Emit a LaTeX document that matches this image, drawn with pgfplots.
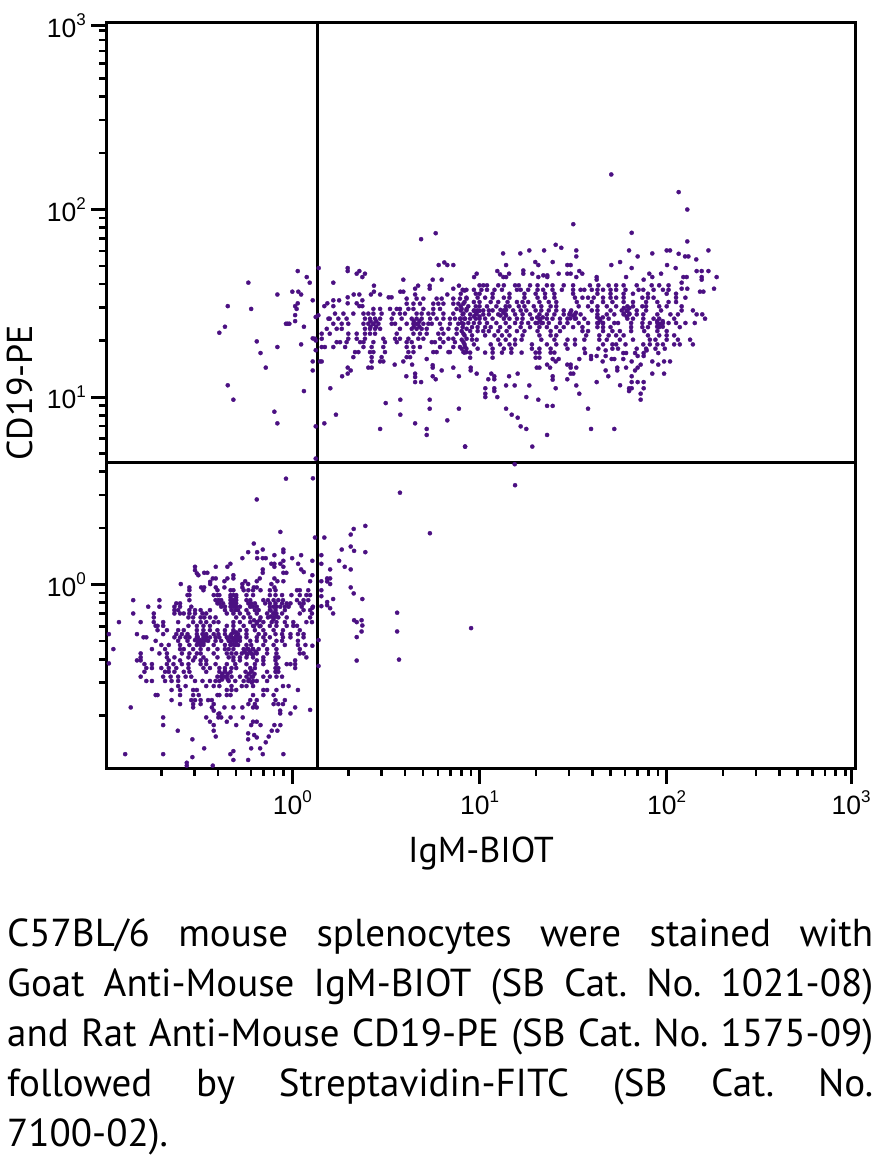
\documentclass[border=0pt]{standalone}
\usepackage{pgfplots}
\usepackage{fontspec}
\pgfplotsset{compat=1.18}
\setmainfont{PT Sans}
\newfontfamily\tickfont{Liberation Sans}
\definecolor{dotpurple}{RGB}{75,16,130}
\newcommand{\decade}[1]{{\tickfont\fontsize{26.5}{27}\selectfont 10\raisebox{11.5pt}{\fontsize{17}{17}\selectfont #1}}}
% events, log10(IgM-BIOT) log10(CD19-PE)
\begin{document}
\begin{tikzpicture}[x=1pt,y=1pt]
\useasboundingbox (0,0) rectangle (884,-1157);
\begin{axis}[
    at={(107pt,-768pt)},
    anchor=south west,
    scale only axis,
    width=748pt,
    height=746pt,
    xmode=log,
    ymode=log,
    xmin=0.1023, xmax=1014,
    ymin=0.1052, ymax=1000,
    xtick={1,10,100,966},
    ytick={1,10,100,958},
    xticklabels={\decade{0},\decade{1},\decade{2},\decade{3}},
    yticklabels={\decade{0},\decade{1},\decade{2},\decade{3}},
    minor xtick={0.2,0.3,0.4,0.5,0.6,0.7,0.8,0.9,2,3,4,5,6,7,8,9,20,30,40,50,60,70,80,90,200,300,400,500,600,700,800,900},
    minor ytick={0.2,0.3,0.4,0.5,0.6,0.7,0.8,0.9,2,3,4,5,6,7,8,9,20,30,40,50,60,70,80,90,200,300,400,500,600,700,800,900},
    tick align=outside,
    tick pos=left,
    major tick length=16pt,
    minor tick length=8pt,
    axis line style={line width=3pt},
    major tick style={black,line width=3pt},
    minor tick style={black,line width=2.6pt},
    xticklabel style={inner sep=0pt,yshift=-7pt},
    yticklabel style={inner sep=0pt,xshift=-5pt},
    xlabel={IgM-BIOT},
    ylabel={CD19-PE},
    xlabel style={at={(axis description cs:0.5,-0.126)},anchor=base,inner sep=0pt,font=\fontsize{36}{40}\selectfont},
    ylabel style={at={(axis description cs:-0.099,0.503)},anchor=base,inner sep=0pt,font=\fontsize{36}{40}\selectfont},
    clip=true,
]
\addplot[only marks,mark=*,mark size=2.1pt,mark options={draw=dotpurple,fill=dotpurple,line width=0.3pt}]
  table[x expr={pow(10,\thisrowno{0})},y expr={pow(10,\thisrowno{1})}] {
-0.19 .454
-.064 .281
-.206 .219
.121 .251
.171 .251
.39 .313
.328 .297
.312 .267
.312 .203
.264 .187
.39 .173
.25 .127
.28 .095
.312 .081
.202 .081
.155 .157
.155 .111
.107 .127
.047 .157
-.001 .141
.031 .111
.047 .081
.061 .067
-.048 .187
-.048 .173
-.096 .157
-.158 .187
-.188 .173
-.236 .173
-.267 .141
-.188 .141
-.158 .141
-.142 .141
-.048 .127
-.064 .111
-.096 .111
-.112 .111
-.096 .095
-.048 .095
-.158 .081
-.158 .063
-.331 .111
-.347 .095
-.409 .095
-.52 .095
-.52 .077
-.51 .06
-.502 .05
-.471 .063
-.454 .063
-.315 .05
-.315 .033
-.347 .033
-.363 .018
-.409 .033
-.425 .033
-.439 .015
-.439 .003
-.596 .003
-.55 -.015
-.487 -.015
-.471 -.015
-.409 -.015
-.363 -.015
-.252 .018
-.267 .003
-.267 -.015
-.236 .003
-.206 -.015
-.19 -.015
-.19 .018
-.174 .033
-.048 .018
-.096 .033
-.08 .018
-.112 .003
-.096 -.015
-.048 .063
-.032 .063
.095 .018
.107 .05
.155 .018
.202 .033
.186 .033
.186 .017
.202 .003
.155 -.03
.155 -.062
.155 -.115
.107 -.124
.312 -.015
.328 -.047
.374 -.077
.218 -.077
.186 -.093
.186 -.11
.202 -.126
.218 -.154
.344 -.2
.374 -.218
.344 -.28
.344 -.405
.14 -.296
.14 -.434
.107 -.326
.955 -.232
.56 -.15
.56 -.25
.57 -.4
.33 -.19
.37 -.19
.37 -.25
.575 .49
.735 .274
.11 .567
1.19 .53
.33 .18
-.98 -.264
-.98 -.42
-.55 -.03
-.475 -.03
-.40 -.03
-.33 -.03
-.315 -.03
-.26 -.03
-.235 -.03
-.21 -.03
-.17 -.03
-.12 -.03
-.09 -.03
.025 -.03
.04 -.03
.085 -.03
-.56 -.056
-.55 -.056
-.42 -.056
-.40 -.056
-.39 -.056
-.33 -.056
-.315 -.056
-.30 -.056
-.245 -.056
-.21 -.056
-.12 -.056
-.09 -.056
-.055 -.056
-.005 -.056
.04 -.056
.075 -.056
.095 -.056
-.85 -.083
-.71 -.083
-.55 -.083
-.41 -.083
-.395 -.083
-.38 -.083
-.33 -.083
-.315 -.083
-.30 -.083
-.245 -.083
-.225 -.083
-.155 -.083
-.13 -.083
-.10 -.083
-.075 -.083
-.05 -.083
.025 -.083
.06 -.083
.085 -.083
-.62 -.1
-.60 -.1
-.40 -.1
-.39 -.1
-.37 -.1
-.325 -.1
-.30 -.1
-.235 -.1
-.22 -.1
-.20 -.1
-.145 -.1
-.12 -.1
-.09 -.1
-.055 -.1
-.03 -.1
-.01 -.1
.04 -.1
.06 -.1
-.77 -.118
-.71 -.118
-.63 -.118
-.60 -.118
-.54 -.118
-.38 -.118
-.36 -.118
-.33 -.118
-.315 -.118
-.30 -.118
-.28 -.118
-.225 -.118
-.21 -.118
-.19 -.118
-.12 -.118
-.10 -.118
-.085 -.118
-.065 -.118
-.04 -.118
-.02 -.118
.05 -.118
.11 -.118
-.63 -.136
-.61 -.136
-.55 -.136
-.52 -.136
-.49 -.136
-.44 -.136
-.36 -.136
-.325 -.136
-.305 -.136
-.29 -.136
-.245 -.136
-.20 -.136
-.18 -.136
-.12 -.136
-.09 -.136
-.04 -.136
.06 -.136
.095 -.136
-.85 -.154
-.74 -.154
-.63 -.154
-.60 -.154
-.58 -.154
-.55 -.154
-.52 -.154
-.48 -.154
-.46 -.154
-.35 -.154
-.315 -.154
-.28 -.154
-.235 -.154
-.19 -.154
-.135 -.154
-.10 -.154
-.085 -.154
-.055 -.154
.04 -.154
.105 -.154
-.74 -.175
-.555 -.175
-.53 -.175
-.49 -.175
-.47 -.175
-.44 -.175
-.41 -.175
-.30 -.175
-.26 -.175
-.225 -.175
-.17 -.175
-.13 -.175
-.10 -.175
-.075 -.175
-.03 -.175
.095 -.175
-.926 -.2
-.81 -.2
-.74 -.2
-.69 -.2
-.61 -.2
-.53 -.2
-.49 -.2
-.46 -.2
-.42 -.2
-.395 -.2
-.315 -.2
-.28 -.2
-.225 -.2
-.19 -.2
-.155 -.2
-.11 -.2
-.085 -.2
-.04 -.2
.005 -.2
.075 -.2
.105 -.2
-.73 -.22
-.72 -.22
-.69 -.22
-.555 -.22
-.51 -.22
-.475 -.22
-.44 -.22
-.35 -.22
-.315 -.22
-.26 -.22
-.21 -.22
-.17 -.22
-.12 -.22
-.085 -.22
-.03 -.22
.005 -.22
.025 -.22
-.72 -.243
-.67 -.243
-.61 -.243
-.58 -.243
-.51 -.243
-.475 -.243
-.44 -.243
-.40 -.243
-.36 -.243
-.315 -.243
-.28 -.243
-.245 -.243
-.20 -.243
-.155 -.243
-.10 -.243
-.05 -.243
.04 -.243
-.83 -.264
-.69 -.264
-.62 -.264
-.59 -.264
-.56 -.264
-.51 -.264
-.48 -.264
-.46 -.264
-.42 -.264
-.395 -.264
-.36 -.264
-.325 -.264
-.29 -.264
-.245 -.264
-.18 -.264
-.145 -.264
-.09 -.264
-.055 -.264
-.01 -.264
.03 -.264
.06 -.264
-.795 -.281
-.78 -.281
-.63 -.281
-.60 -.281
-.57 -.281
-.55 -.281
-.51 -.281
-.475 -.281
-.44 -.281
-.41 -.281
-.39 -.281
-.35 -.281
-.325 -.281
-.30 -.281
-.28 -.281
-.245 -.281
-.19 -.281
-.155 -.281
-.12 -.281
-.05 -.281
-.01 -.281
.06 -.281
-.73 -.3
-.61 -.3
-.56 -.3
-.50 -.3
-.475 -.3
-.45 -.3
-.41 -.3
-.38 -.3
-.34 -.3
-.315 -.3
-.30 -.3
-.28 -.3
-.225 -.3
-.19 -.3
-.145 -.3
-.085 -.3
-.055 -.3
.03 -.3
-.70 -.322
-.66 -.322
-.60 -.322
-.55 -.322
-.51 -.322
-.49 -.322
-.475 -.322
-.42 -.322
-.36 -.322
-.33 -.322
-.305 -.322
-.29 -.322
-.245 -.322
-.22 -.322
-.155 -.322
-.10 -.322
-.04 -.322
.03 -.322
.07 -.322
-.956 -.344
-.75 -.344
-.68 -.344
-.60 -.344
-.58 -.344
-.53 -.344
-.49 -.344
-.45 -.344
-.40 -.344
-.36 -.344
-.34 -.344
-.315 -.344
-.26 -.344
-.235 -.344
-.21 -.344
-.18 -.344
-.135 -.344
-.085 -.344
.04 -.344
-.81 -.367
-.71 -.367
-.67 -.367
-.59 -.367
-.55 -.367
-.51 -.367
-.49 -.367
-.42 -.367
-.35 -.367
-.325 -.367
-.30 -.367
-.27 -.367
-.245 -.367
-.22 -.367
-.19 -.367
-.135 -.367
-.085 -.367
.04 -.367
.06 -.367
-.81 -.388
-.67 -.388
-.63 -.388
-.555 -.388
-.52 -.388
-.475 -.388
-.40 -.388
-.34 -.388
-.315 -.388
-.28 -.388
-.245 -.388
-.21 -.388
-.155 -.388
-.09 -.388
-.075 -.388
.075 -.388
-.83 -.404
-.81 -.404
-.66 -.404
-.60 -.404
-.53 -.404
-.49 -.404
-.46 -.404
-.315 -.404
-.28 -.404
-.19 -.404
-.155 -.404
-.09 -.404
.015 -.404
-.75 -.424
-.79 -.424
-.67 -.424
-.635 -.424
-.59 -.424
-.555 -.424
-.49 -.424
-.46 -.424
-.41 -.424
-.35 -.424
-.305 -.424
-.245 -.424
-.20 -.424
-.155 -.424
-.085 -.424
-.03 -.424
-.01 -.424
.015 -.424
-.78 -.445
-.75 -.445
-.70 -.445
-.66 -.445
-.62 -.445
-.555 -.445
-.475 -.445
-.44 -.445
-.39 -.445
-.36 -.445
-.325 -.445
-.30 -.445
-.225 -.445
-.20 -.445
-.09 -.445
-.075 -.445
.015 -.445
-.79 -.465
-.68 -.465
-.66 -.465
-.63 -.465
-.58 -.465
-.55 -.465
-.46 -.465
-.39 -.465
-.36 -.465
-.33 -.465
-.25 -.465
-.22 -.465
-.135 -.465
-.09 -.465
-.075 -.465
-.81 -.491
-.69 -.491
-.65 -.491
-.61 -.491
-.57 -.491
-.54 -.491
-.40 -.491
-.38 -.491
-.35 -.491
-.325 -.491
-.28 -.491
-.245 -.491
-.21 -.491
-.155 -.491
-.12 -.491
-.085 -.491
-.055 -.491
-.78 -.514
-.75 -.514
-.68 -.514
-.645 -.514
-.61 -.514
-.52 -.514
-.48 -.514
-.44 -.514
-.41 -.514
-.39 -.514
-.34 -.514
-.305 -.514
-.26 -.514
-.235 -.514
-.21 -.514
-.19 -.514
-.135 -.514
-.61 -.541
-.57 -.541
-.46 -.541
-.42 -.541
-.39 -.541
-.325 -.541
-.27 -.541
-.245 -.541
-.21 -.541
-.05 -.541
-.02 -.541
-.645 -.562
-.60 -.562
-.53 -.562
-.51 -.562
-.35 -.562
-.325 -.562
-.30 -.562
-.155 -.562
-.135 -.562
-.085 -.562
.03 -.562
-.73 -.589
-.72 -.589
-.60 -.589
-.53 -.589
-.50 -.589
-.40 -.589
-.39 -.589
-.35 -.589
-.33 -.589
-.21 -.589
-.155 -.589
-.10 -.589
-.645 -.616
-.54 -.616
-.52 -.616
-.49 -.616
-.45 -.616
-.43 -.616
-.225 -.616
-.19 -.616
-.09 -.616
-.04 -.616
-.60 -.637
-.53 -.637
-.49 -.637
-.42 -.637
-.235 -.637
-.20 -.637
-.10 -.637
-.075 -.637
-.05 -.637
-.863 -.655
-.53 -.655
-.43 -.655
-.363 -.655
-.315 -.655
-.267 -.655
-.21 -.655
-.19 -.655
.015 -.655
-.42 -.672
-.065 -.672
.095 -.668
-.39 -.687
-.395 -.69
-.065 -.687
-.01 -.687
-.69 -.708
-.46 -.708
-.395 -.708
-.38 -.708
-.33 -.708
-.265 -.708
-.44 -.731
-.35 -.731
-.21 -.731
-.19 -.731
-.69 -.749
-.42 -.749
-.30 -.749
-.22 -.749
-.17 -.749
-.096 -.749
-.064 -.749
-.612 -.779
-.42 -.779
-.11 -.779
-.08 -.779
-.534 -.825
-.409 -.81
-.236 -.793
-.204 -.802
-.19 -.815
-.126 -.81
-.236 -.825
-.142 -.841
-.22 -.873
-.172 -.873
-.471 -.873
-.893 -.904
-.69 -.904
-.534 -.92
-.315 -.888
-.331 -.904
-.158 -.904
-.048 -.904
-.315 -.935
-.236 -.935
-.564 -.95
-.564 -.965
-.425 -.965
-.49 -.296
-.505 -.28
-.475 -.265
-.49 -.31
-.505 -.311
-.475 -.311
-.46 -.296
-.52 -.296
-.46 -.28
-.315 -.287
-.33 -.272
-.30 -.272
-.33 -.303
-.30 -.303
-.345 -.287
-.285 -.287
-.315 -.255
-.315 -.32
-.33 -.32
-.30 -.255
-.226 -.358
-.241 -.343
-.211 -.343
-.241 -.373
-.211 -.373
-.256 -.358
-.196 -.358
-.36 -.491
-.375 -.476
-.345 -.476
-.375 -.506
-.345 -.506
-.36 -.46
-.217 -.491
-.232 -.476
-.202 -.476
-.217 -.46
-.217 -.522
-.232 -.506
-.101 -.154
-.116 -.17
-.086 -.17
-.101 -.185
-.116 -.138
-.315 -.083
-.33 -.068
-.30 -.068
-.315 -.1
-.33 -.1
-.19 -.207
-.205 -.19
-.175 -.19
-.205 -.222
-.175 -.222
-.235 1.61
-.345 1.485
-.22 1.47
-.36 1.375
-.39 1.343
-.19 1.297
-.08 1.267
-.17 1.235
-.142 1.157
-.345 1.063
-.315 .986
-.096 .922
-.08 .86
.062 1.032
.109 1.142
.109 1.19
.125 1.25
.109 1.313
.125 1.302
.047 1.281
.062 1.375
.015 1.405
.015 1.437
.023 1.47
.015 1.485
.029 1.5
-.025 1.391
-.034 1.391
-.016 1.391
0 1.562
.032 1.562
.047 1.547
-.08 1.547
.029 1.672
.077 1.64
.093 1.61
.109 1.516
.141 1.688
.125 1.427
.139 1.436
.125 .844
.171 .86
.233 .906
.125 .672
-.034 .565
.203 1.047
.266 1.111
.296 1.125
.312 1.142
.296 1.157
.219 1.61
.296 1.688
.296 1.672
.344 1.658
.358 1.672
.374 1.64
.388 1.658
.436 1.594
.42 1.547
.436 1.562
.469 1.547
.328 1.547
.358 1.547
.296 1.532
.296 1.5
.25 1.516
.219 1.516
.219 1.485
.187 1.5
.171 1.485
.344 1.5
.358 1.485
.374 1.516
.374 1.485
.515 1.532
.53 1.532
.577 1.562
.593 1.562
.593 1.626
.688 1.842
.766 1.874
.782 1.704
.812 1.718
.828 1.704
.86 1.704
.75 1.626
.798 1.626
.672 1.594
.656 1.578
.656 1.547
.734 1.594
.734 1.578
.86 1.578
.89 1.594
.828 1.547
.92 1.568
.499 .968
.577 .986
.577 .906
.734 .986
.734 .938
.89 .938
.656 .86
.469 .83
.718 .83
.718 .798
.828 .876
.923 .736
.609 1.111
.656 1.125
.656 1.107
.656 1.08
.688 1.08
.75 1.17
.75 1.157
.75 1.111
.766 1.095
.798 1.142
.86 1.157
.89 1.111
.718 1.203
.64 1.173
.547 1.173
.593 1.19
.433 1.47
.469 1.47
.522 1.47
.558 1.47
.575 1.47
.62 1.47
.647 1.47
.7 1.47
.753 1.47
.789 1.47
.878 1.47
.905 1.47
.931 1.47
.611 1.498
.647 1.498
.682 1.498
.753 1.498
.78 1.498
.807 1.498
.86 1.498
.887 1.498
.914 1.498
.611 1.525
.664 1.525
.7 1.525
.771 1.525
.798 1.525
.86 1.525
.896 1.525
.931 1.525
.228 1.445
.273 1.445
.326 1.445
.38 1.445
.406 1.445
.433 1.445
.477 1.445
.54 1.445
.575 1.445
.602 1.445
.664 1.445
.691 1.445
.727 1.445
.753 1.445
.807 1.445
.86 1.445
.914 1.445
.193 1.418
.2 1.418
.246 1.418
.29 1.418
.388 1.418
.415 1.418
.442 1.418
.469 1.418
.531 1.418
.584 1.418
.638 1.418
.664 1.418
.691 1.418
.736 1.418
.771 1.418
.807 1.418
.842 1.418
.869 1.418
.896 1.418
.923 1.418
.219 1.391
.264 1.391
.299 1.391
.38 1.391
.406 1.391
.433 1.391
.46 1.391
.531 1.391
.549 1.391
.611 1.391
.647 1.391
.673 1.391
.7 1.391
.727 1.391
.745 1.391
.789 1.391
.842 1.391
.887 1.391
.914 1.391
.184 1.364
.237 1.364
.264 1.364
.388 1.364
.415 1.364
.442 1.364
.469 1.364
.575 1.364
.638 1.364
.664 1.364
.691 1.364
.718 1.364
.798 1.364
.834 1.364
.878 1.364
.931 1.364
.157 1.338
.2 1.338
.299 1.338
.344 1.338
.388 1.338
.415 1.338
.442 1.338
.558 1.338
.647 1.338
.682 1.338
.718 1.338
.78 1.338
.807 1.338
.878 1.338
.914 1.338
.121 1.311
.157 1.311
.299 1.311
.344 1.311
.388 1.311
.486 1.311
.549 1.311
.575 1.311
.62 1.311
.673 1.311
.7 1.311
.789 1.311
.834 1.311
.86 1.311
.931 1.311
.237 1.293
.255 1.293
.29 1.293
.362 1.293
.38 1.293
.433 1.293
.495 1.293
.558 1.293
.611 1.293
.638 1.293
.745 1.293
.762 1.293
.807 1.293
.869 1.293
.914 1.293
.157 1.267
.174 1.267
.219 1.267
.282 1.267
.38 1.267
.424 1.267
.486 1.267
.611 1.267
.647 1.267
.682 1.267
.789 1.267
.86 1.267
.896 1.267
.923 1.267
.335 1.24
.353 1.24
.415 1.24
.433 1.24
.495 1.24
.62 1.24
.647 1.24
.753 1.24
.771 1.24
.834 1.24
.842 1.24
.914 1.24
.931 1.24
.326 1.213
.424 1.213
.477 1.213
.611 1.213
.629 1.213
.424 1.19
.469 1.19
.486 1.19
.148 1.19
.157 1.19
.406 1.157
.424 1.157
1.704 2.187
2.064 2.093
2.11 2.0
1.501 1.922
1.813 1.876
2.11 1.83
1.407 1.812
1.437 1.796
1.517 1.782
1.517 1.75
1.799 1.782
1.845 1.75
1.923 1.766
2.0 1.782
2.018 1.782
2.064 1.764
2.098 1.75
2.116 1.75
2.158 1.734
2.223 1.782
1.126 1.766
1.218 1.766
1.266 1.782
1.345 1.782
1.142 1.704
1.298 1.72
1.314 1.704
1.391 1.72
1.469 1.704
1.487 1.704
1.704 1.704
1.751 1.72
1.813 1.688
2.002 1.704
2.048 1.688
2.16 1.672
2.187 1.672
2.223 1.672
2.267 1.64
2.253 1.578
.971 1.64
.985 1.658
1.095 1.672
1.11 1.654
1.127 1.64
1.158 1.658
1.142 1.64
1.234 1.675
1.234 1.658
1.282 1.658
1.314 1.64
1.341 1.649
1.362 1.649
1.362 1.64
1.423 1.658
1.469 1.658
1.487 1.658
1.533 1.672
1.549 1.658
1.517 1.64
1.626 1.64
1.626 1.626
1.783 1.64
1.877 1.626
1.907 1.658
1.923 1.64
1.97 1.658
2.107 1.64
2.089 1.64
2.187 1.64
2.187 1.626
2.08 1.61
2.08 1.578
2.11 1.578
2.178 1.562
2.196 1.562
.985 1.125
.953 1.157
.953 1.142
1.047 1.095
1.063 1.125
1.079 1.111
1.079 1.095
1.158 1.111
1.204 1.125
1.031 1.047
1.031 1.018
1.031 1.0
1.079 1.047
1.079 1.032
1.095 1.0
1.142 1.062
1.188 1.062
1.266 1.062
1.25 1.0
1.314 .986
1.142 .938
1.172 .906
1.204 .89
1.22 .844
1.25 .83
1.361 .953
1.391 .953
1.361 .798
1.282 .736
.923 .736
1.188 .642
1.58 .938
1.596 .83
1.72 .83
1.407 1.047
1.391 1.111
1.391 1.093
1.469 1.095
1.517 1.062
1.533 1.018
1.626 1.08
1.688 1.111
1.751 1.063
1.813 1.111
1.813 1.08
1.799 1.047
1.799 1.032
1.813 1.047
1.845 1.08
1.877 1.08
1.877 1.047
1.861 1.018
1.861 .986
1.923 1.125
1.986 1.125
1.674 1.142
1.736 1.157
1.736 1.142
1.783 1.157
1.831 1.142
1.845 1.157
1.861 1.173
1.923 1.19
1.955 1.173
1.986 1.19
2.018 1.19
1.955 1.235
1.306 1.157
1.32 1.157
1.361 1.173
1.377 1.157
1.391 1.203
1.407 1.19
1.423 1.203
1.469 1.173
1.487 1.173
1.487 1.157
1.487 1.125
1.501 1.125
1.517 1.157
1.533 1.203
1.564 1.235
1.596 1.219
1.596 1.203
1.626 1.219
1.658 1.19
1.674 1.219
1.674 1.249
1.706 1.203
1.72 1.203
1.768 1.235
1.783 1.235
1.768 1.203
1.813 1.19
1.831 1.235
1.845 1.219
1.877 1.235
1.877 1.219
1.893 1.249
1.0 1.596
1.02 1.596
1.04 1.596
1.10 1.596
1.13 1.596
1.19 1.596
1.21 1.596
1.27 1.596
1.31 1.596
1.36 1.596
1.39 1.596
1.45 1.596
1.50 1.596
1.59 1.596
1.635 1.596
1.69 1.596
1.73 1.596
1.77 1.596
1.84 1.596
1.92 1.596
1.96 1.596
2.01 1.596
.91 1.572
.93 1.572
.97 1.572
1.01 1.572
1.04 1.572
1.08 1.572
1.12 1.572
1.2 1.572
1.22 1.572
1.26 1.572
1.31 1.572
1.34 1.572
1.39 1.572
1.44 1.572
1.5 1.572
1.54 1.572
1.56 1.572
1.6 1.572
1.63 1.572
1.66 1.572
1.7 1.572
1.73 1.572
1.78 1.572
1.85 1.572
1.875 1.572
1.93 1.572
1.98 1.572
2.01 1.572
.9 1.551
.98 1.551
1.0 1.551
1.07 1.551
1.16 1.551
1.24 1.551
1.3 1.551
1.35 1.551
1.4 1.551
1.5 1.551
1.63 1.551
1.7 1.551
1.77 1.551
1.82 1.551
1.9 1.551
2.0 1.551
2.05 1.551
.93 1.53
.99 1.53
1.03 1.53
1.07 1.53
1.13 1.53
1.16 1.53
1.24 1.53
1.31 1.53
1.35 1.53
1.4 1.53
1.51 1.53
1.55 1.53
1.58 1.53
1.61 1.53
1.66 1.53
1.7 1.53
1.73 1.53
1.77 1.53
1.87 1.53
1.9 1.53
1.93 1.53
2.05 1.53
2.1 1.53
.92 1.507
.97 1.507
1.0 1.507
1.06 1.507
1.1 1.507
1.15 1.507
1.2 1.507
1.23 1.507
1.26 1.507
1.32 1.507
1.37 1.507
1.41 1.507
1.52 1.507
1.6 1.507
1.66 1.507
1.71 1.507
1.77 1.507
1.82 1.507
1.89 1.507
1.95 1.507
2.01 1.507
2.05 1.507
.9 1.484
.94 1.484
.98 1.484
1.0 1.484
1.04 1.484
1.09 1.484
1.14 1.484
1.16 1.484
1.21 1.484
1.24 1.484
1.29 1.484
1.33 1.484
1.38 1.484
1.41 1.484
1.53 1.484
1.58 1.484
1.63 1.484
1.68 1.484
1.73 1.484
1.79 1.484
1.82 1.484
1.87 1.484
1.89 1.484
1.96 1.484
2.0 1.484
2.08 1.484
.9 1.462
.93 1.462
.97 1.462
.99 1.462
1.02 1.462
1.05 1.462
1.07 1.462
1.13 1.462
1.18 1.462
1.22 1.462
1.25 1.462
1.3 1.462
1.33 1.462
1.37 1.462
1.41 1.462
1.45 1.462
1.49 1.462
1.6 1.462
1.63 1.462
1.7 1.462
1.76 1.462
1.79 1.462
1.84 1.462
1.89 1.462
1.97 1.462
2.08 1.462
2.14 1.462
.91 1.441
.95 1.441
.98 1.441
1.02 1.441
1.05 1.441
1.1 1.441
1.14 1.441
1.19 1.441
1.23 1.441
1.27 1.441
1.32 1.441
1.36 1.441
1.4 1.441
1.45 1.441
1.48 1.441
1.51 1.441
1.54 1.441
1.63 1.441
1.68 1.441
1.72 1.441
1.77 1.441
1.8 1.441
1.84 1.441
1.875 1.441
1.95 1.441
2.02 1.441
2.06 1.441
2.16 1.441
2.19 1.441
.9 1.418
.92 1.418
.95 1.418
.98 1.418
1.0 1.418
1.03 1.418
1.07 1.418
1.13 1.418
1.16 1.418
1.2 1.418
1.23 1.418
1.28 1.418
1.32 1.418
1.36 1.418
1.39 1.418
1.43 1.418
1.47 1.418
1.51 1.418
1.56 1.418
1.64 1.418
1.69 1.418
1.79 1.418
1.82 1.418
1.875 1.418
1.93 1.418
1.96 1.418
2.04 1.418
2.205 1.418
.905 1.395
.94 1.395
.97 1.395
1.0 1.395
1.04 1.395
1.09 1.395
1.14 1.395
1.19 1.395
1.225 1.395
1.26 1.395
1.3 1.395
1.33 1.395
1.37 1.395
1.43 1.395
1.47 1.395
1.53 1.395
1.58 1.395
1.635 1.395
1.66 1.395
1.72 1.395
1.74 1.395
1.81 1.395
1.87 1.395
1.91 1.395
1.95 1.395
1.98 1.395
2.01 1.395
2.05 1.395
2.1 1.395
2.15 1.395
.91 1.373
.96 1.373
.99 1.373
1.03 1.373
1.06 1.373
1.11 1.373
1.16 1.373
1.22 1.373
1.27 1.373
1.32 1.373
1.36 1.373
1.41 1.373
1.45 1.373
1.5 1.373
1.55 1.373
1.63 1.373
1.66 1.373
1.7 1.373
1.81 1.373
1.87 1.373
1.9 1.373
1.96 1.373
2.07 1.373
.905 1.352
.95 1.352
.99 1.352
1.02 1.352
1.05 1.352
1.1 1.352
1.145 1.352
1.2 1.352
1.24 1.352
1.31 1.352
1.38 1.352
1.43 1.352
1.55 1.352
1.58 1.352
1.66 1.352
1.71 1.352
1.75 1.352
1.81 1.352
1.88 1.352
1.95 1.352
2.0 1.352
.92 1.329
.96 1.329
1.03 1.329
1.08 1.329
1.12 1.329
1.16 1.329
1.23 1.329
1.32 1.329
1.38 1.329
1.41 1.329
1.57 1.329
1.64 1.329
1.69 1.329
1.73 1.329
1.77 1.329
1.9 1.329
1.96 1.329
2.0 1.329
2.04 1.329
.905 1.306
.96 1.306
.985 1.306
1.1 1.306
1.14 1.306
1.19 1.306
1.225 1.306
1.33 1.306
1.4 1.306
1.47 1.306
1.51 1.306
1.56 1.306
1.64 1.306
1.68 1.306
1.75 1.306
1.82 1.306
1.91 1.306
1.94 1.306
2.0 1.306
2.06 1.306
2.125 1.306
.92 1.281
.97 1.281
1.06 1.281
1.11 1.281
1.16 1.281
1.19 1.281
1.28 1.281
1.36 1.281
1.41 1.281
1.46 1.281
1.51 1.281
1.66 1.281
1.71 1.281
1.73 1.281
1.78 1.281
1.875 1.281
1.91 1.281
1.95 1.281
1.98 1.281
2.04 1.281
2.07 1.281
2.14 1.281
.905 1.258
.93 1.258
.99 1.258
1.07 1.258
1.13 1.258
1.17 1.258
1.28 1.258
1.32 1.258
1.38 1.258
1.47 1.258
1.56 1.258
1.635 1.258
1.71 1.258
1.74 1.258
1.84 1.258
1.89 1.258
1.94 1.258
1.99 1.258
.92 1.237
.95 1.237
1.03 1.237
1.07 1.237
1.12 1.237
1.17 1.237
1.225 1.237
1.3 1.237
1.32 1.237
1.38 1.237
1.4 1.237
.95 1.21
1.07 1.21
1.3 1.21
1.32 1.21
.985 1.445
1.0 1.43
.97 1.43
1.0 1.46
.97 1.46
1.127 1.45
1.142 1.435
1.112 1.435
1.142 1.465
1.112 1.465
1.323 1.41
1.338 1.425
1.308 1.425
1.338 1.395
1.308 1.395
1.5 1.435
1.515 1.42
1.485 1.42
1.515 1.45
1.485 1.45
1.644 1.41
1.659 1.425
1.629 1.425
1.659 1.395
1.629 1.395
1.786 1.46
1.801 1.445
1.771 1.445
1.801 1.475
1.771 1.475
1.786 1.43
1.964 1.39
1.979 1.375
1.949 1.375
1.979 1.405
1.949 1.405
.664 1.39
.679 1.405
.649 1.405
.679 1.375
.649 1.375
.433 1.39
.448 1.375
.418 1.375
.448 1.405
.418 1.405
};
\addplot[black,line width=3pt] coordinates {(1.36,0.1052)(1.36,1000)};
\addplot[black,line width=3pt] coordinates {(0.1023,4.49)(1014,4.49)};
\end{axis}
\node[anchor=north west,inner sep=0pt,text width=866pt,align=justify,
      font=\fontsize{39}{50}\selectfont] at (7,-919) {\frenchspacing C57BL/6 mouse splenocytes were stained with\linebreak
Goat Anti-Mouse IgM-BIOT (SB Cat. No. 1021-08)\linebreak
and Rat Anti-Mouse CD19-PE (SB Cat. No. 1575-09)\linebreak
followed by Streptavidin-FITC (SB Cat. No.\linebreak
7100-02).};
\end{tikzpicture}
\end{document}
